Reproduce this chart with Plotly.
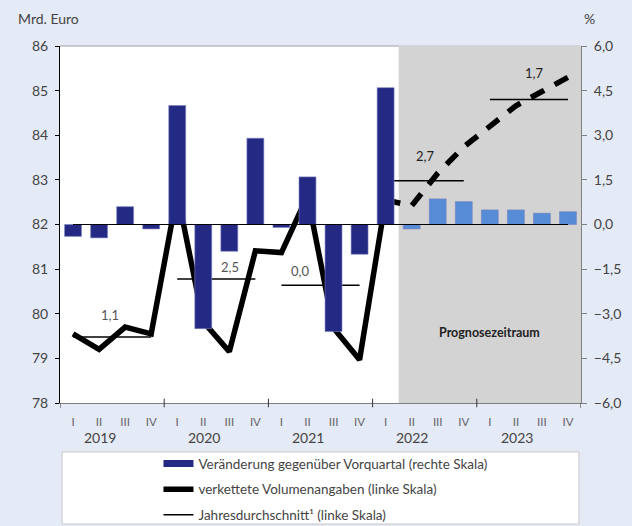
import plotly.graph_objects as go

# quarters 2019 I .. 2023 IV
years = ["2019", "2020", "2021", "2022", "2023"]
quarters = ["I", "II", "III", "IV"]
change_pct = [-0.4, -0.45, 0.6, -0.15,           # Veränderung gg. Vorquartal, %
              4.0, -3.5, -0.9, 2.9,
              -0.1, 1.6, -3.6, -1.0,
              4.6, -0.15, 0.86, 0.77,
              0.49, 0.49, 0.38, 0.43]
volume = [79.55, 79.2, 79.7, 79.55,              # verkettete Volumenangaben, Mrd. Euro
          82.7, 79.82, 79.15, 81.41,
          81.37, 82.64, 79.68, 78.97,
          82.55, 82.42, 83.15, 83.74,
          84.2, 84.66, 84.98, 85.3]
annual_avg = [79.48, 80.78, 80.64, 82.98, 84.8]  # Jahresdurchschnitt
annual_growth = ["1,1", "2,5", "0,0", "2,7", "1,7"]
forecast_start = 13                              # first forecast quarter (2022 II)

NAVY = "#242a84"
LIGHT = "#568bd6"
FONT = "Lato"

n = len(change_pct)
xs = list(range(n))
bar_colors = [NAVY if i < forecast_start else LIGHT for i in xs]

fig = go.Figure()

fig.add_trace(go.Bar(x=xs, y=change_pct, yaxis="y2", width=0.65,
                     marker=dict(color=bar_colors, line=dict(color="#7c83c0", width=0.6)),
                     showlegend=False))

# legend stand-in for the bars (a wide flat block)
fig.add_trace(go.Scatter(x=[None], y=[None], mode="lines", line=dict(color=NAVY, width=7),
                         name="Veränderung gegenüber Vorquartal (rechte Skala)", legendgroup="a"))

# volume line: solid history, dashed forecast
fig.add_trace(go.Scatter(x=xs[:forecast_start], y=volume[:forecast_start], mode="lines",
                         line=dict(color="black", width=5.5),
                         name="verkettete Volumenangaben (linke Skala)", legendgroup="b"))
fig.add_trace(go.Scatter(x=xs[forecast_start - 1:], y=volume[forecast_start - 1:], mode="lines",
                         line=dict(color="black", width=5.5, dash="15px,12px"),
                         showlegend=False))

# annual averages
for k, avg in enumerate(annual_avg):
    fig.add_trace(go.Scatter(x=[4 * k, 4 * k + 3], y=[avg, avg], mode="lines",
                             line=dict(color="black", width=1.5),
                             name="Jahresdurchschnitt¹ (linke Skala)", legendgroup="c",
                             showlegend=(k == 0)))

shapes = [
    # top frame line
    dict(type="line", xref="paper", yref="paper", x0=0, x1=1, y0=1, y1=1,
         line=dict(color="#a0a0a0", width=1), layer="below"),
    # forecast shading
    dict(type="rect", xref="x", yref="paper", x0=forecast_start - 0.5, x1=n - 0.5, y0=0, y1=1.003,
         fillcolor="#d3d3d3", line=dict(width=0), layer="below"),
    # zero line
    dict(type="line", xref="x", yref="y", x0=0, x1=n - 1, y0=82, y1=82,
         line=dict(color="black", width=1.2)),
    # legend box
    dict(type="rect", xref="paper", yref="paper", x0=0.004, x1=0.996, y0=-0.137, y1=-0.339,
         fillcolor="white", line=dict(color="#c8c8c8", width=1), layer="below"),
]
for b in [3.5, 7.5, 11.5, 15.5]:
    shapes.append(dict(type="line", xref="x", yref="paper", x0=b, x1=b, y0=-0.012, y1=0.012,
                       line=dict(color="#333", width=1)))
for b in [-0.5, n - 0.5]:
    shapes.append(dict(type="line", xref="x", yref="paper", x0=b, x1=b, y0=-0.014, y1=0,
                       line=dict(color="#333", width=1)))

label_pos = [(1.42, 79.97), (6.04, 81.05), (8.73, 80.96), (13.5, 83.54), (17.69, 85.4)]
annotations = []
for k, (txt, (ax, ay)) in enumerate(zip(annual_growth, label_pos)):
    annotations.append(dict(x=ax, y=ay, xref="x", yref="y", text=txt, showarrow=False,
                            font=dict(family=FONT, size=13,
                                      color="#555" if k < 3 else "#222")))
for k, yr in enumerate(years):
    annotations.append(dict(x=4 * k + 1.03, y=-0.097, xref="x", yref="paper", text=yr,
                            yanchor="middle", showarrow=False,
                            font=dict(family=FONT, size=14, color="#444")))
annotations += [
    dict(x=16, y=79.57, xref="x", yref="y", text="<b>Prognosezeitraum</b>", showarrow=False,
         font=dict(family=FONT, size=12.5, color="#222")),
    dict(x=-0.085, y=1.077, xref="paper", yref="paper", text="Mrd. Euro", showarrow=False,
         xanchor="left", yanchor="middle", font=dict(family=FONT, size=14, color="#444")),
    dict(x=1.031, y=1.077, xref="paper", yref="paper", text="%", showarrow=False,
         yanchor="middle", font=dict(family=FONT, size=14, color="#444")),
]

fig.update_layout(
    width=632, height=526,
    margin=dict(l=60, r=51, t=46, b=123, autoexpand=False),
    paper_bgcolor="#e4eaf6", plot_bgcolor="white",
    separators=",.",
    font=dict(family=FONT, size=13, color="#444"),
    bargap=0.35,
    xaxis=dict(range=[-0.5, n - 0.5], tickvals=xs, ticktext=quarters * len(years),
               showgrid=False, zeroline=False, showline=True, linecolor="#808080",
               ticks="", ticklabelstandoff=8, tickfont=dict(size=11.5, color="#666")),
    yaxis=dict(range=[78, 86], dtick=1, showgrid=False, zeroline=False, showline=True,
               linecolor="black", ticks="outside", ticklen=4, tickcolor="black",
               tickfont=dict(size=14, color="#444"), ticklabelstandoff=4),
    yaxis2=dict(range=[-6, 6], dtick=1.5, tickformat=".1f", overlaying="y", side="right",
                showgrid=False, zeroline=False, showline=True, linecolor="#808080",
                ticks="outside", ticklen=5, tickcolor="#808080",
                tickfont=dict(size=14, color="#444"), ticklabelstandoff=4),
    shapes=shapes,
    annotations=annotations,
    showlegend=True,
    legend=dict(x=0.189, y=-0.127, xanchor="left", yanchor="top", bgcolor="rgba(0,0,0,0)",
                traceorder="grouped", tracegroupgap=5,
                font=dict(family=FONT, size=13.5, color="#444")),
)

# drop the page's default 8px body margin so the figure fills the window
fig.write_html("out.html", config={"displayModeBar": False},
               post_script="document.body.style.margin='0';")
